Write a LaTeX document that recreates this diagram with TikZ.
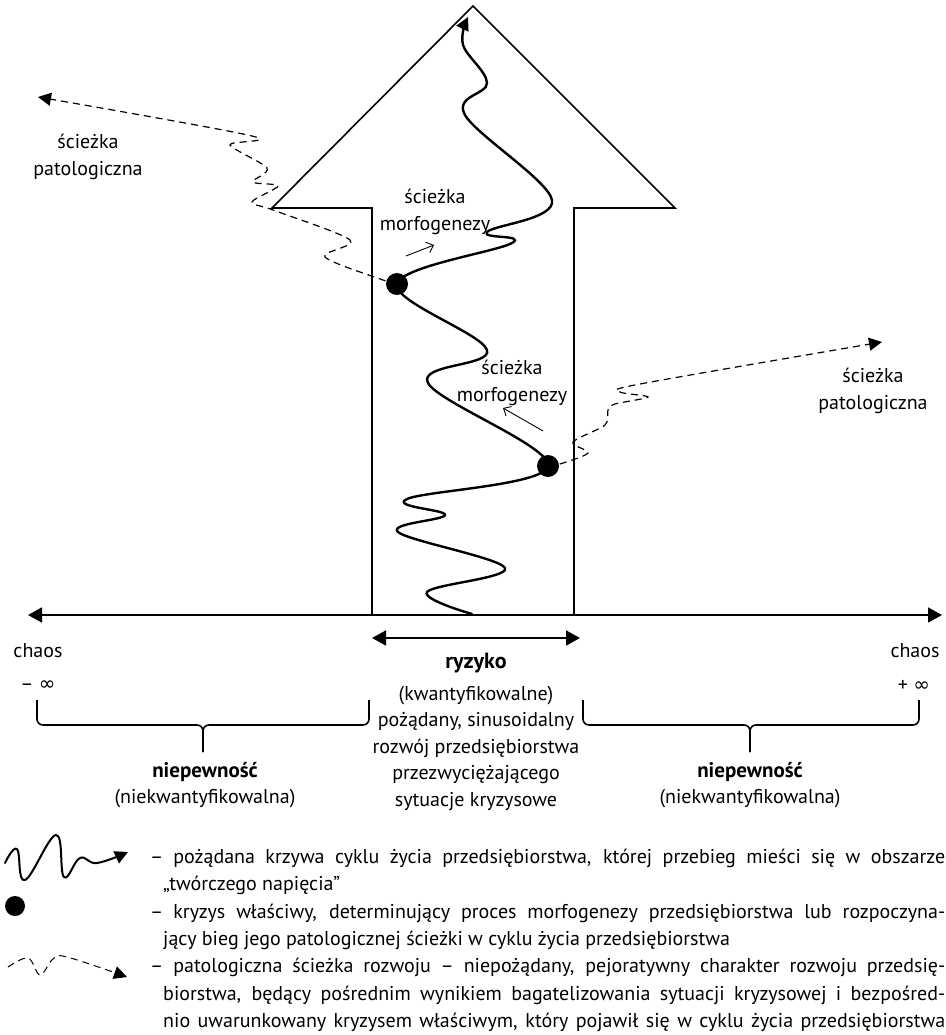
\documentclass[tikz,border=0pt]{standalone}
\usepackage{fontspec}
\setmainfont{PT Sans}
\newfontfamily\symfont{DejaVu Sans}
\usetikzlibrary{positioning,arrows.meta}

\newcommand\legitem{\par\hangindent=13pt\hangafter=1\noindent–\enspace}

\begin{document}
\begin{tikzpicture}[
  x=1pt, y=-1pt,
  lbl/.style={font=\fontsize{20}{26.5}\selectfont, align=center, inner sep=0pt},
  bold/.style={font=\fontsize{21}{26}\selectfont\bfseries, inner sep=0pt},
  legendtext/.style={font=\fontsize{20}{27.3}\selectfont, align=justify, text width=795pt, inner sep=0pt, anchor=north west},
  crisis/.style={circle, fill, inner sep=0pt, minimum size=22pt},
  growth/.style={line width=2.4pt, line cap=round},
  patho/.style={line width=1.2pt, dash pattern=on 7pt off 5pt},
  endhead/.style={-{Triangle[length=13pt,width=13pt]}},
  axis/.style={line width=1.8pt, {Triangle[length=14pt,width=15pt]}-{Triangle[length=14pt,width=15pt]}},
  hint/.style={line width=0.9pt, -{Straight Barb[length=6pt,width=11pt]}},
  brace/.style={line width=1.6pt, rounded corners=6pt}
]
  \useasboundingbox (0,0) rectangle (945,1035);

  \draw[line width=1.6pt] (372,615) -- (372,208) -- (272,208) -- (473,6) -- (675,208) -- (574,208) -- (574,615);
  \draw[axis] (28,615) -- (942,615);
  \draw[axis] (372,638) -- (580,638);

  \node[crisis] (crisis1) at (548,466) {};
  \node[crisis] (crisis2) at (397,284) {};

  \draw[growth, endhead] plot[smooth, tension=0.6] coordinates {(472,614) (427,592) (505,568) (398,532) (445,515) (407,499) (crisis1.center) (428,383) (487,350) (crisis2.center) (512,243) (487,232) (552,200) (465,115) (487,83) (463,45) (468,17)};
  \draw[patho, endhead] plot[smooth, tension=0.5] coordinates {(crisis2.center) (383,280) (325,257) (350,240) (273,210) (252,202) (278,186) (253,182) (267,168) (230,145) (252,136) (38,97)};
  \draw[patho, endhead] plot[smooth, tension=0.5] coordinates {(crisis1.center) (560,464) (588,453) (573,442) (605,425) (608,410) (615,404) (648,397) (620,392) (640,384) (882,342)};

  \node[lbl] (pathL) at (88,157) {ścieżka\\patologiczna};
  \node[lbl] (pathR) at (873,391) {ścieżka\\patologiczna};
  \node[lbl] (morphU) at (435,212) {ścieżka\\morfogenezy};
  \node[lbl] (morphL) at (512,383) {ścieżka\\morfogenezy};
  \draw[hint] (406,256) -- (434,245);
  \draw[hint] (543,431) -- (503,408);

  \node[lbl] (chaosL) at (38,651) {chaos};
  \node[lbl] (infL) at (38,686) {– {\symfont ∞}};
  \node[lbl] (chaosR) at (915,651) {chaos};
  \node[lbl] (infR) at (914,686) {+ {\symfont ∞}};

  \draw[brace] (37,700) -- (37,725) -- (203,725) -- (203,752);
  \draw[brace] (369,700) -- (369,725) -- (203,725) -- (203,752);
  \draw[brace] (583,700) -- (583,725) -- (750,725) -- (750,752);
  \draw[brace] (919,700) -- (919,725) -- (750,725) -- (750,752);

  \node[bold, font=\fontsize{22}{26}\selectfont\bfseries] (risk) at (476,663) {ryzyko};
  \node[lbl] (riskText) at (476,748) {(kwantyfikowalne)\\pożądany, sinusoidalny\\rozwój przedsiębiorstwa\\przezwyciężającego\\sytuacje kryzysowe};
  \node[bold] (uncL) at (205,772) {niepewność};
  \node[lbl, below=7pt of uncL] (uncLText) {(niekwantyfikowalna)};
  \node[bold] (uncR) at (750,772) {niepewność};
  \node[lbl, below=7pt of uncR] (uncRText) {(niekwantyfikowalna)};

  \draw[growth, line width=2pt, endhead] plot[smooth, tension=0.7] coordinates {(5,863) (17,849) (25,880) (56,835) (64,877) (80,858) (97,863) (128,852)};
  \node[crisis, minimum size=20pt] (keyDot) at (15,906) {};
  \draw[patho, line width=1pt, endhead] plot[smooth, tension=0.6] coordinates {(8,967) (28,958) (40,975) (53,959) (67,957) (127,977)};

  \node[legendtext] (legend) at (150,836) {\parskip=0pt\hyphenpenalty=10000
    \legitem pożądana krzywa cyklu życia przedsiębiorstwa, której przebieg mieści się w obszarze\linebreak „twórczego napięcia”
    \legitem kryzys właściwy, determinujący proces morfogenezy przedsiębiorstwa lub rozpoczyna-\linebreak jący bieg jego patologicznej ścieżki w cyklu życia przedsiębiorstwa
    \legitem patologiczna ścieżka rozwoju – niepożądany, pejoratywny charakter rozwoju przedsię-\linebreak biorstwa, będący pośrednim wynikiem bagatelizowania sytuacji kryzysowej i bezpośred-\linebreak nio uwarunkowany kryzysem właściwym, który pojawił się w cyklu życia przedsiębiorstwa\parfillskip=0pt\par};
\end{tikzpicture}
\end{document}
